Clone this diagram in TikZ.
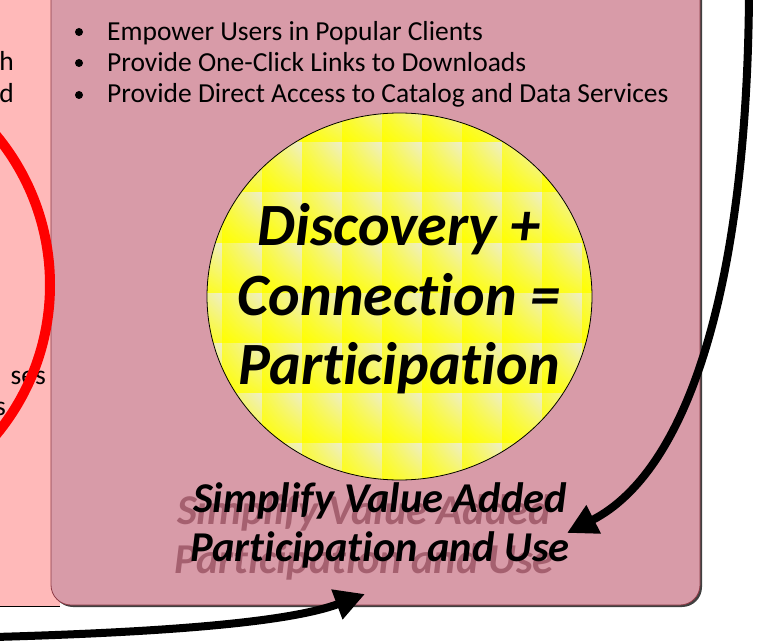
\documentclass[tikz,border=0pt]{standalone}
\usepackage{fontspec}
\setmainfont{Carlito}[Ligatures={NoCommon}]
\usetikzlibrary{arrows.meta,shadings}
\definecolor{leftpink}{HTML}{FFB9B9}
\definecolor{mainrose}{HTML}{D89BA8}
\definecolor{roseborder}{HTML}{8E3B46}
\definecolor{cream}{HTML}{EEEECB}
\definecolor{shadowtext}{HTML}{A5606F}
\tikzset{
  bodytext/.style={font=\fontsize{27.5bp}{31bp}\selectfont, inner sep=0pt, text=black},
  bulletdot/.style={circle, fill=black, inner sep=0pt, minimum size=8bp},
  bigtext/.style={font=\fontsize{60bp}{69.5bp}\selectfont\bfseries\itshape, align=center, inner sep=0pt},
  goaltext/.style={font=\fontsize{42.5bp}{49bp}\selectfont\bfseries\itshape, align=center, inner sep=0pt},
  bigarrow/.style={line width=8bp, -{Triangle[length=30bp,width=30bp]}},
}
\begin{document}
\begin{tikzpicture}[x=1bp,y=-1bp]
\useasboundingbox (0,0) rectangle (759,642);
\begin{scope}
\clip (0,0) rectangle (759,642);
% left panel
\fill[leftpink] (-60,-60) rectangle (60,606);
\draw[black, line width=1bp] (-60,606) -- (60,606);
\node[bodytext, anchor=base east] (lt1) at (14,71) {h};
\node[bodytext, anchor=base east] (lt2) at (14,103) {d};
\node[bodytext, anchor=base east] (lt3) at (46,384) {ses};
\node[bodytext, anchor=base east] (lt4) at (6,415) {s};
% main panel with shadow
\fill[black!75, rounded corners=20bp] (53,-60) rectangle (702,607);
\draw[roseborder, fill=mainrose, line width=0.8bp, rounded corners=20bp] (51,-60) rectangle (700,605);
% red arc
\draw[red, line width=10bp] (-185,285) circle (235);
% bullets
\node[bulletdot] (d1) at (79,32) {};
\node[bulletdot] (d2) at (79,63) {};
\node[bulletdot] (d3) at (79,95) {};
\node[bodytext, anchor=base west] (b1) at (107,40.5) {Empower Users in Popular Clients};
\node[bodytext, anchor=base west] (b2) at (107,71.5) {Provide One-Click Links to Downloads};
\node[bodytext, anchor=base west] (b3) at (107,103) {Provide Direct Access to Catalog and Data Services};
% yellow disc
\begin{scope}
\clip (399.5,296.5) ellipse [x radius=192.5, y radius=183.5];
\fill[yellow] (200,100) rectangle (600,490);
\foreach \i in {0,...,10} {
  \foreach \j in {0,...,8} {
    \shade[upper right=cream, upper left=yellow!65!cream, lower left=yellow, lower right=yellow!75!cream]
      ({182+40*\i},{93+50*\j}) rectangle ({222+40*\i},{143+50*\j});
  }
}
\end{scope}
\draw[black, line width=0.8bp] (399.5,296.5) ellipse [x radius=192.5, y radius=183.5];
\node[bigtext] (disc) at (399,299) {Discovery +\\Connection =\\Participation};
% goal text with shadow
\node[goaltext, text=shadowtext] (goalshadow) at (364,537) {Simplify Value Added\\Participation and Use};
\node[goaltext] (goal) at (380,525) {Simplify Value Added\\Participation and Use};
% arrows
\coordinate (a1s) at (749,-5);
\coordinate (a1e) at (567,533);
\coordinate (a2s) at (-5,637);
\coordinate (a2e) at (365,594);
\draw[bigarrow] (a1s) .. controls (747,280) and (690,470) .. (a1e);
\draw[bigarrow] (a2s) .. controls (170,632) and (290,622) .. (a2e);
\end{scope}
\end{tikzpicture}
\end{document}
